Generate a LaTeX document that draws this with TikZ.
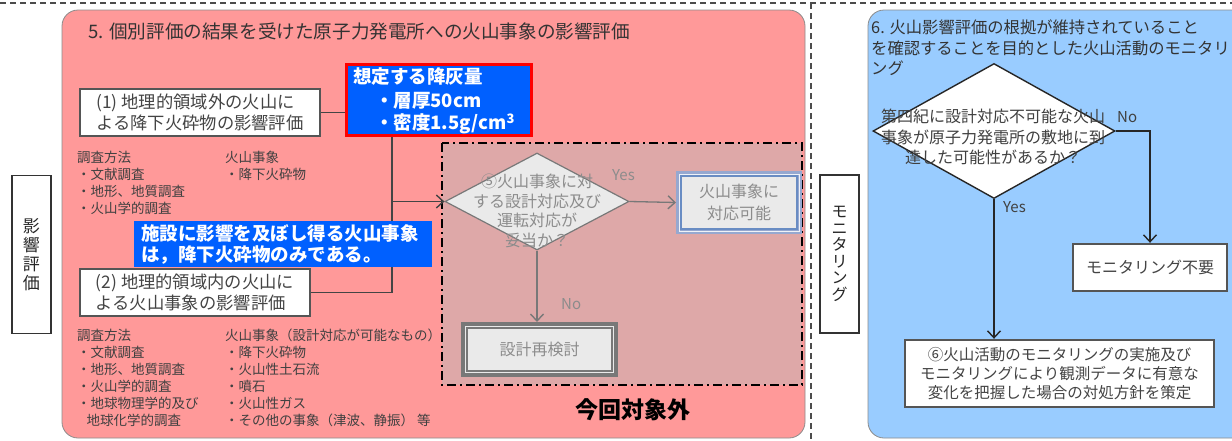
\documentclass[tikz,border=0pt]{standalone}
\usepackage{fontspec}
\setmainfont{Noto Sans CJK JP}
\usetikzlibrary{shapes.geometric,arrows.meta}
\definecolor{pinkbg}{RGB}{255,153,153}
\definecolor{bluebg}{RGB}{153,204,255}
\definecolor{regionbg}{RGB}{222,168,168}
\definecolor{bluebox}{RGB}{0,96,255}
\definecolor{boxgray}{RGB}{85,85,85}
\definecolor{txtgray}{RGB}{68,68,68}
\definecolor{fadetxt}{RGB}{140,140,140}
\definecolor{fadeline}{RGB}{120,120,120}
\definecolor{fadefill}{RGB}{234,234,234}
\definecolor{okouter}{RGB}{150,168,208}
\definecolor{okinner}{RGB}{105,140,195}
\newcommand{\fz}[2]{\fontsize{#1}{#2}\selectfont}
\tikzset{
  lbox/.style={draw=boxgray, line width=2.2pt, fill=white, text=txtgray, inner sep=0pt, align=left},
  rbox/.style={draw=boxgray, line width=2.4pt, fill=white, text=txtgray, inner sep=0pt, align=center},
  conn/.style={draw=txtgray, line width=1.4pt},
  rconn/.style={draw=black!85, line width=1.4pt},
  fconn/.style={draw=fadeline, line width=1.3pt},
  arr/.style={-{Straight Barb[length=7pt,width=13pt,line width=1.4pt]}},
  plain/.style={inner sep=0pt, anchor=north west, align=left},
  bluelabel/.style={fill=bluebox, inner sep=0pt},
  whitebold/.style={text=white, font=\bfseries\fz{18.5}{23}, inner sep=0pt, anchor=west},
  vbox/.style={draw=black!80, line width=1.2pt, fill=white, minimum width=39pt, minimum height=158pt, inner sep=0pt},
}
\begin{document}
\begin{tikzpicture}[x=1pt,y=-1pt]
\useasboundingbox (0,0) rectangle (1232,440);
\fill[white] (0,0) rectangle (1232,440);
% outer dashed frame lines
\draw[black!70, line width=1.3pt, dash pattern=on 6pt off 4pt] (0,3) -- (1232,3);
\draw[black!70, line width=1.3pt, dash pattern=on 6pt off 4pt] (811,3) -- (811,440);
% panels
\draw[fill=pinkbg, draw=black!45, line width=0.8pt, rounded corners=16pt] (62,10) rectangle (805,438);
\draw[fill=bluebg, draw=black!45, line width=0.8pt, rounded corners=16pt] (868,10) rectangle (1262,438);
% titles
\node[anchor=west, inner sep=0pt, text=black!80, font=\fz{18.6}{21}] (t5) at (88,31) {5. 個別評価の結果を受けた原子力発電所への火山事象の影響評価};
\node[plain, text=black!80, font=\fz{16.3}{20.5}] (t6) at (871,20) {6. 火山影響評価の根拠が維持されていること\\を確認することを目的とした火山活動のモニタリ\\ング};
% side labels
\node[vbox] (vl) at (31.5,254.5) {};
\node[align=center, inner sep=0pt, text=black!85, font=\fz{17}{19}] (vlt) at (vl.center) {影\\響\\評\\価};
\node[vbox] (vr) at (839.5,254) {};
\node[align=center, inner sep=0pt, text=black!85, font=\fz{16}{16.5}] (vrt) at (vr.center) {モ\\ニ\\タ\\リ\\ン\\グ};
% out-of-scope region
\draw[fill=regionbg, draw=black, line width=2.5pt, dash pattern=on 9pt off 4pt on 2pt off 4pt] (442,143) rectangle (802,385);
% left boxes
\node[lbox, minimum width=240pt, minimum height=47pt, font=\fz{17.3}{21}] (b1) at (200,112.5) {(1) 地理的領域外の火山に\\よる降下火砕物の影響評価};
\node[lbox, minimum width=230pt, minimum height=47pt, font=\fz{17.3}{21}] (b2) at (195,292.5) {(2) 地理的領域内の火山に\\よる火山事象の影響評価};
% diamond 5 and results
\node[shape=diamond, draw=fadeline, fill=fadefill, line width=1.2pt, minimum width=184pt, minimum height=97pt, inner sep=0pt] (d5) at (537,201.5) {};
\node[align=center, inner sep=0pt, text=fadetxt, font=\fz{16}{19.5}] (d5t) at (537,211) {⑤火山事象に対\\する設計対応及び\\運転対応が\\妥当か？};
\node[draw=okouter, line width=4pt, fill=fadefill, minimum width=122pt, minimum height=59pt, inner sep=0pt] (ok) at (739,202.5) {};
\draw[draw=white!85!okouter, line width=1pt] ([shift={(3,3)}]ok.north west) rectangle ([shift={(-3,-3)}]ok.south east);
\draw[draw=okinner, line width=1.5pt] ([shift={(5,5)}]ok.north west) rectangle ([shift={(-5,-5)}]ok.south east);
\node[align=center, inner sep=0pt, text=fadetxt, font=\fz{16}{22}] (okt) at (ok.center) {火山事象に\\対応可能};
\node[draw=fadeline, line width=4pt, fill=fadefill, minimum width=153pt, minimum height=51pt, inner sep=0pt] (re) at (539.5,349.5) {};
\draw[draw=fadeline, line width=1.8pt] ([shift={(6,6)}]re.north west) rectangle ([shift={(-6,-6)}]re.south east);
\node[inner sep=0pt, text=fadetxt, font=\fz{16}{19}] (ret) at (re.center) {設計再検討};
\draw[fconn, arr] (d5.east) -- (ok.west);
\draw[fconn, arr] (d5.south) -- (d5.south |- re.north);
\node[anchor=west, inner sep=0pt, text=fadetxt, font=\fz{15}{18}] (y5) at (612,175) {Yes};
\node[anchor=west, inner sep=0pt, text=fadetxt, font=\fz{15}{18}] (n5) at (561,304) {No};
% left connectors
\coordinate (j) at (392,201.5);
\draw[conn] (b1.east) -- (b1.east -| j) -- (j |- b2.east) -- (b2.east);
\draw[conn, arr] (j) -- (d5.west);
% blue overlay boxes
\node[draw=red, line width=3pt, fill=bluebox, minimum width=185pt, minimum height=71pt, inner sep=0pt] (ash) at (439,100) {};
\node[whitebold] (ash1) at (353,77) {想定する降灰量};
\node[whitebold] (ash2) at (375,101) {・層厚50cm};
\node[whitebold] (ash3) at (375,124) {・密度1.5g/cm\textsuperscript{3}};
\node[bluelabel, minimum width=298pt, minimum height=46pt] (lab) at (283,244) {};
\node[whitebold] (lab1) at (141,233.5) {施設に影響を及ぼし得る火山事象};
\node[whitebold] (lab2) at (141,255.5) {は，降下火砕物のみである。};
% lists
\node[plain, text=black!75, font=\fz{13.5}{17}] (l1) at (77,151) {調査方法\\・文献調査\\・地形、地質調査\\・火山学的調査};
\node[plain, text=black!75, font=\fz{13.5}{17}] (l2) at (225,151) {火山事象\\・降下火砕物};
\node[plain, text=black!75, font=\fz{13.5}{17}] (l3) at (77,328.5) {調査方法\\・文献調査\\・地形、地質調査\\・火山学的調査\\・地球物理学的及び\\\hspace{0.7em}地球化学的調査};
\node[plain, text=black!75, font=\fz{13.5}{17}] (l4) at (225,328.5) {火山事象（設計対応が可能なもの）\\・降下火砕物\\・火山性土石流\\・噴石\\・火山性ガス\\・その他の事象（津波、静振） 等};
\node[inner sep=0pt, text=black, font=\bfseries\fz{23}{26}] (out) at (633,410) {今回対象外};
% right panel flow
\node[shape=diamond, draw=black!85, fill=white, line width=1.4pt, minimum width=242pt, minimum height=135pt, inner sep=0pt] (d6) at (994,131) {};
\node[align=center, inner sep=0pt, text=black!75, font=\fz{16}{20.5}] (d6t) at (993,137) {第四紀に設計対応不可能な火山\\事象が原子力発電所の敷地に到\\達した可能性があるか？};
\node[rbox, minimum width=154pt, minimum height=47pt, font=\fz{16}{19}] (m) at (1150,267.5) {モニタリング不要};
\node[rbox, minimum width=309pt, minimum height=67pt, font=\fz{15.5}{19}] (six) at (1059.5,373.5) {⑥火山活動のモニタリングの実施及び\\モニタリングにより観測データに有意な\\変化を把握した場合の対処方針を策定};
\draw[rconn, arr] (d6.east) -| (m.north);
\draw[rconn, arr] (d6.south) -- (d6.south |- six.north);
\node[anchor=west, inner sep=0pt, text=black!75, font=\fz{15}{18}] (n6) at (1117,117) {No};
\node[anchor=west, inner sep=0pt, text=black!75, font=\fz{15}{18}] (y6) at (1003,207) {Yes};
\end{tikzpicture}
\end{document}
